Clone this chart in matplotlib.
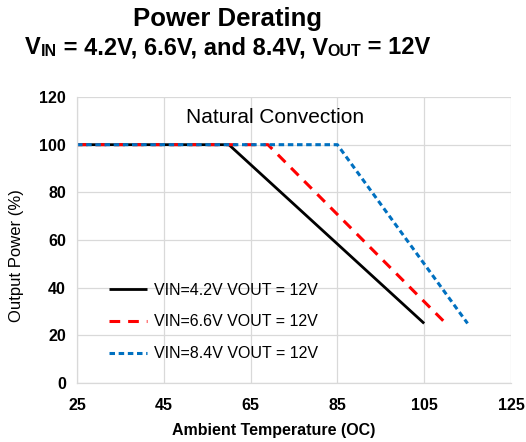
"""
Power derating curves, Natural Convection.
Output: out.png
"""
import matplotlib.pyplot as plt

FIG_PATH = "out.png"

# ambient temperature (C) vs output power (%)
temp_42 = [25, 60, 105]
power_42 = [100, 100, 25]
temp_66 = [25, 69, 110]
power_66 = [100, 100, 25]
temp_84 = [25, 85, 115]
power_84 = [100, 100, 25]

x_ticks = [25, 45, 65, 85, 105, 125]
y_ticks = [0, 20, 40, 60, 80, 100, 120]

# subtitle pieces: (text, is_subscript)
subtitle = [("V", False), ("IN", True), (" = 4.2V, 6.6V, and 8.4V, V", False),
            ("OUT", True), (" = 12V", False)]


def draw_subtitle(fig, cx, y, size, sub_size):
    # lay out pieces left to right in pixel coords, then center the row
    renderer = fig.canvas.get_renderer()
    texts = []
    for s, is_sub in subtitle:
        t = fig.text(0, 0, s, fontsize=sub_size if is_sub else size,
                     fontweight="bold", va="baseline", ha="left", transform=None)
        texts.append((t, is_sub))
    widths = [t.get_window_extent(renderer).width for t, _ in texts]
    x = cx - sum(widths) / 2
    for (t, is_sub), w in zip(texts, widths):
        t.set_position((x, y - (1.5 if is_sub else 0)))
        x += w


def main():
    plt.rcParams["font.family"] = ["Liberation Sans", "DejaVu Sans"]

    fig = plt.figure(figsize=(5.26, 4.42), dpi=100)
    ax = fig.add_axes([0.1464, 0.1335, 0.825, 0.647])

    ax.plot(temp_42, power_42, color="black", lw=2.0, solid_capstyle="butt",
            label="VIN=4.2V VOUT = 12V")
    ax.plot(temp_66, power_66, color="#ff0000", lw=2.2, dashes=(3.5, 2.6),
            label="VIN=6.6V VOUT = 12V")
    ax.plot(temp_84, power_84, color="#0070c0", lw=2.2, dashes=(1.8, 1.2),
            label="VIN=8.4V VOUT = 12V")

    ax.set_xlim(25, 125)
    ax.set_ylim(0, 120)
    ax.set_xticks(x_ticks)
    ax.set_yticks(y_ticks)
    ax.grid(True, color="#d9d9d9", lw=0.9)
    ax.set_axisbelow(True)
    for side in ("top", "right"):
        ax.spines[side].set_visible(False)
    for side in ("left", "bottom"):
        ax.spines[side].set_color("#d9d9d9")
        ax.spines[side].set_linewidth(0.9)
    ax.tick_params(length=0, labelsize=11.5)
    ax.tick_params(axis="x", pad=11)
    ax.tick_params(axis="y", pad=8)
    for lab in ax.get_xticklabels() + ax.get_yticklabels():
        lab.set_fontweight("bold")

    ax.set_xlabel("Ambient Temperature (OC)", fontsize=11.5, fontweight="bold")
    ax.xaxis.set_label_coords(0.454, -0.14)
    fig.text(17 / 526, 1 - 256 / 442, "Output Power (%)", rotation=90,
             ha="center", va="center", fontsize=12)

    ax.text(0.456, 0.93, "Natural Convection", transform=ax.transAxes,
            ha="center", va="center", fontsize=15)

    ax.legend(loc="lower left", bbox_to_anchor=(0.04, 0.026), frameon=False,
              fontsize=11.5, handlelength=2.4, labelspacing=1.05, handletextpad=0.45)

    fig.text(0.433, 0.958, "Power Derating", ha="center", va="center",
             fontsize=18.5, fontweight="bold")
    draw_subtitle(fig, 0.433 * 526, 442 - 54, 17, 11.5)

    fig.savefig(FIG_PATH, dpi=100)
    plt.close()
    print(f"Saved {FIG_PATH}")


if __name__ == "__main__":
    main()
